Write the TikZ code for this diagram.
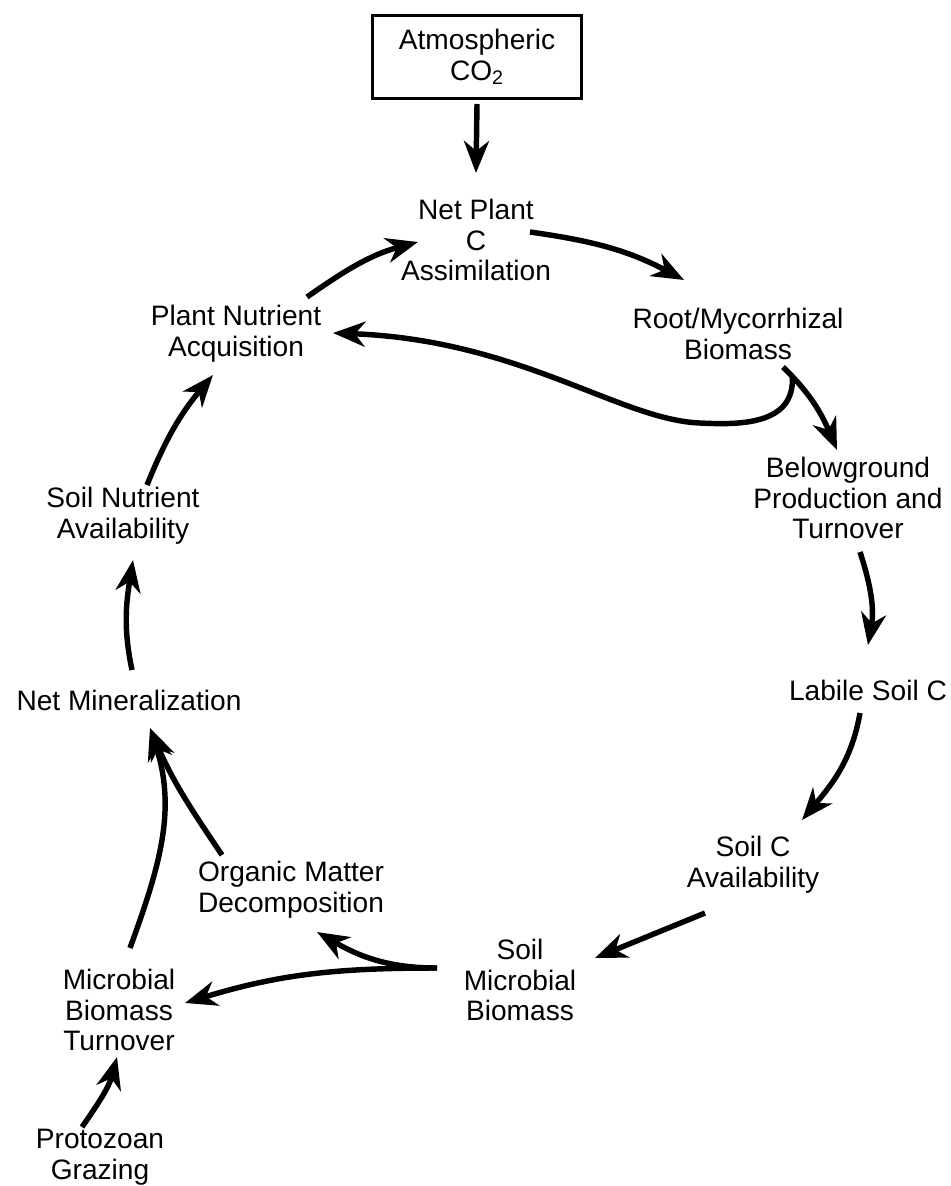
\documentclass[tikz,border=0pt]{standalone}
\usepackage{fontspec}
\setmainfont{Liberation Sans}
\usetikzlibrary{arrows.meta}

\begin{document}
\begin{tikzpicture}[x=0.02cm,y=-0.02cm]
\tikzset{
  lbl/.style={align=center, inner sep=3pt, font=\fontsize{16}{17.5}\selectfont},
  flow/.style={line width=3.1pt, -{Stealth[length=0.64cm,width=0.5cm,inset=0.2cm]}}
}
\useasboundingbox (0,0) rectangle (950,1186);

\node[lbl, draw, line width=2pt, minimum width=4.18cm, minimum height=1.66cm] (co2) at (477,57) {Atmospheric\\CO\textsubscript{2}};

\node[lbl] (assim)  at (476,240)  {Net Plant\\C\\Assimilation};
\node[lbl] (acq)    at (236,334)  {Plant Nutrient\\Acquisition};
\node[lbl] (root)   at (738,334)  {Root/Mycorrhizal\\Biomass};
\node[lbl] (below)  at (848,498)  {Belowground\\Production and\\Turnover};
\node[lbl] (labile) at (868,690)  {Labile Soil C};
\node[lbl] (soilC)  at (753,865)  {Soil C\\Availability};
\node[lbl] (smb)    at (520,980)  {Soil\\Microbial\\Biomass};
\node[lbl] (omd)    at (291,890)  {Organic Matter\\Decomposition};
\node[lbl] (mbt)    at (119,1010) {Microbial\\Biomass\\Turnover};
\node[lbl] (proto)  at (100,1157) {Protozoan\\Grazing};
\node[lbl] (netmin) at (129,700)  {Net Mineralization};
\node[lbl] (sna)    at (123,516)  {Soil Nutrient\\Availability};

\draw[flow] ([shift={(0,47)}]co2.center) -- ([shift={(0,-67)}]assim.center);
\draw[flow] ([shift={(54,-8)}]assim.center) to[out=-8,in=152] ([shift={(-54,-54)}]root.center);
\draw[flow] ([shift={(71,-37)}]acq.center) to[out=35,in=195] ([shift={(-58,2)}]assim.center);
\draw[flow] ([shift={(45,33)}]root.center) to[out=-44,in=113] coordinate[pos=0.12] (fork) ([shift={(-11,-48)}]below.center);
\draw[flow] (fork) .. controls (795,425) and (740,425) .. (700,423) .. controls (620,420) and (520,340) .. ([shift={(97,-1)}]acq.center);
\draw[flow] ([shift={(12,54)}]below.center) to[out=-72,in=80] ([shift={(0,-45)}]labile.center);
\draw[flow] ([shift={(-8,23)}]labile.center) to[out=-100,in=50] ([shift={(49,-45)}]soilC.center);
\draw[flow] ([shift={(-48,48)}]soilC.center) -- ([shift={(75,-22)}]smb.center);
\draw[flow] ([shift={(-83,-12)}]smb.center) to[out=180,in=17] ([shift={(66,-7)}]mbt.center);
\draw[flow] ([shift={(-83,-12)}]smb.center) to[out=180,in=-30] ([shift={(26,42)}]omd.center);
\draw[flow] ([shift={(-69,-35)}]omd.center) to[out=124,in=-67] ([shift={(21,28)}]netmin.center);
\draw[flow] ([shift={(11,-62)}]mbt.center) to[out=70,in=-72] ([shift={(21,28)}]netmin.center);
\draw[flow] ([shift={(3,-30)}]netmin.center) to[out=102,in=-99] ([shift={(10,44)}]sna.center);
\draw[flow] ([shift={(24,-31)}]sna.center) to[out=68,in=-130] ([shift={(-23,41)}]acq.center);
\draw[flow] ([shift={(-18,-30)}]proto.center) to[out=55,in=-105] ([shift={(-2,47)}]mbt.center);
\end{tikzpicture}
\end{document}
